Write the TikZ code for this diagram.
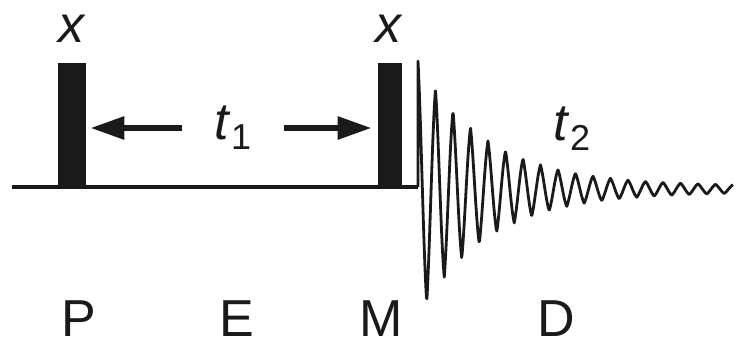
\documentclass[tikz,border=0pt]{standalone}
\usepackage{fontspec}
\setmainfont{Liberation Sans}
\usetikzlibrary{positioning,calc,arrows.meta}
\definecolor{sqline}{HTML}{1A1A1A}
\tikzset{
  sqbase/.style={draw=sqline,line width=2pt},
  pulso/.style={fill=sqline,draw=none,inner sep=0pt,anchor=south},
  rot/.style={font=\fontsize{26}{30}\selectfont,text=sqline,inner sep=0pt,anchor=base},
  fid/.style={draw=sqline,line width=1.4pt,line join=round},
  seta/.style={-{Triangle[length=17pt,width=11pt]},line width=3pt,sqline},
}
\newcommand{\tcomsub}[1]{\textit{t}{\fontsize{18}{18}\selectfont\raisebox{-5pt}{#1}}}

\begin{document}
\begin{tikzpicture}[x=0.5pt,y=-0.5pt]
  \useasboundingbox (0,0) rectangle (739,343);
  \coordinate (ini) at (12,187);
  \coordinate (fim) at (418,187);
  \draw[sqbase] (ini) -- (fim);
  \node[pulso,minimum width=14pt,minimum height=62pt] (p1) at (72,187) {};
  \node[pulso,minimum width=12pt,minimum height=62pt] (p2) at (390,187) {};
  \node[rot] (x1) at (72,42) {\textit{x}};
  \node[rot] (x2) at (389,42) {\textit{x}};
  % evolucao
  \node[rot,anchor=center,inner xsep=16pt] (t1) at (233,128) {\tcomsub{1}};
  \draw[seta,shorten >=2pt] (t1.west) -- (t1.west -| p1.east);
  \draw[seta,shorten >=3pt] (t1.east) -- (t1.east -| p2.west);
  % deteccao
  \draw[fid] (fim) -- plot[domain=0:315,samples=600]
    ({418+\x},{189-(125*exp(-0.0145*\x)+3)*(0.6*asin(cos(20.571*\x))/90+0.4*cos(20.571*\x))});
  \node[rot] (t2) at (572,140) {\tcomsub{2}};
  \foreach \n/\k/\px in {p/P/79,e/E/237,m/M/381,d/D/556}
    \node[rot] (\n) at (\px,336) {\k};
\end{tikzpicture}
\end{document}
